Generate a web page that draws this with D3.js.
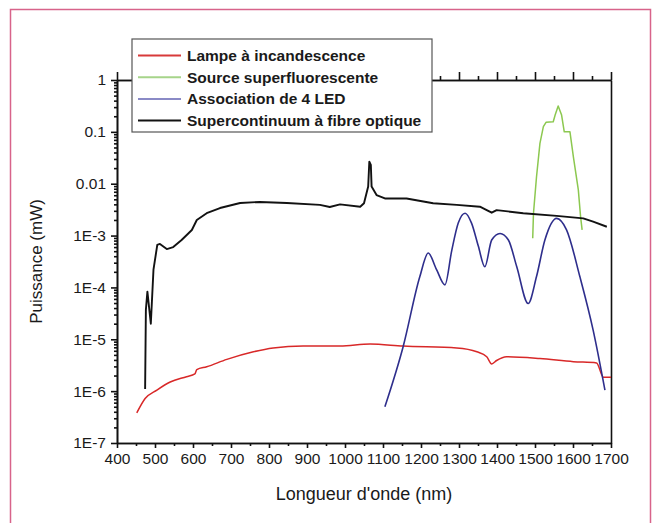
<!DOCTYPE html>
<html><head><meta charset="utf-8">
<script src="https://cdn.jsdelivr.net/npm/d3@7/dist/d3.min.js"></script>
<style>
body{margin:0;background:#fff;}
svg{display:block;font-family:"Liberation Sans",Arial,sans-serif;}
</style></head>
<body><svg id="c" width="657" height="523"></svg>
<script>
// ---- data ----
const xTicks = [400,500,600,700,800,900,1000,1100,1200,1300,1400,1500,1600,1700];
const yTicks = [1e-7,1e-6,1e-5,1e-4,1e-3,1e-2,1e-1,1];
const yTickLabels = ["1E-7","1E-6","1E-5","1E-4","1E-3","0.01","0.1","1"];
const seriesNames = ["Lampe à incandescence","Source superfluorescente","Association de 4 LED","Supercontinuum à fibre optique"];

const redNm  = [452,474,505,540,583,605,610,636,689,759,811,890,987,1066,1153,1294,1347,1373,1386,1399,1425,1513,1601,1662,1680,1700];
const redVal = [3.8e-7,7.2e-7,1.05e-6,1.5e-6,1.9e-6,2.15e-6,2.6e-6,2.95e-6,4.1e-6,5.75e-6,6.8e-6,7.4e-6,7.4e-6,8.1e-6,7.4e-6,6.8e-6,5.75e-6,4.6e-6,3.35e-6,3.9e-6,4.6e-6,4.25e-6,3.7e-6,3.5e-6,1.85e-6,1.85e-6];

const greenNm  = [1494,1496,1504,1513,1522,1529,1548,1553,1561,1570,1577,1592,1601,1614,1620,1624];
const greenVal = [8.9e-4,2.7e-3,1.36e-2,6.0e-2,0.126,0.153,0.157,0.211,0.316,0.211,0.10,0.10,3.3e-2,7.6e-3,2.3e-3,1.29e-3];

const blueNm  = [1105,1153,1197,1219,1241,1263,1281,1298,1316,1333,1351,1368,1386,1408,1430,1452,1482,1504,1526,1557,1583,1618,1653,1684];
const blueVal = [5.0e-7,7.2e-6,1.62e-4,4.6e-4,2.2e-4,1.12e-4,5.2e-4,1.74e-3,2.7e-3,1.74e-3,6.2e-4,2.5e-4,8.2e-4,1.1e-3,8.2e-4,2.5e-4,4.9e-5,1.62e-4,8.2e-4,2.15e-3,1.29e-3,1.62e-4,1.5e-5,1.05e-6];

const blackNm  = [474,476,480,489,496,506,513,531,548,570,597,610,636,671,724,776,847,934,960,987,1040,1050,1061,1064,1068,1070,1083,1105,1162,1232,1294,1355,1373,1386,1399,1469,1557,1627,1653,1689];
const blackVal = [1.1e-6,3.7e-5,8.3e-5,2.0e-5,2.2e-4,6.6e-4,6.9e-4,5.5e-4,6.0e-4,8.2e-4,1.28e-3,2.0e-3,2.7e-3,3.4e-3,4.25e-3,4.45e-3,4.25e-3,3.9e-3,3.55e-3,4.0e-3,3.6e-3,4.2e-3,8.8e-3,2.66e-2,2.3e-2,8.8e-3,6.05e-3,5.2e-3,5.2e-3,4.2e-3,3.9e-3,3.6e-3,3.1e-3,2.76e-3,3.1e-3,2.7e-3,2.4e-3,2.15e-3,1.85e-3,1.48e-3];

const colors = ["#d82828","#8cc850","#2e2e8c","#121212"];
const legendColors = ["#d83a3a","#a6d48a","#8a8ac6","#121212"];

// ---- chart ----
const svg = d3.select("#c");
const L=117,R=611,T=80,B=443;
const x = d3.scaleLinear().domain([400,1700]).range([L,R]);
const y = d3.scaleLog().domain([1e-7,1]).range([B,T]);

// pink border
svg.append("rect").attr("x",10.5).attr("y",9.5).attr("width",640).attr("height",530)
  .attr("fill","none").attr("stroke","#d8638a").attr("stroke-width",1.5);

const minorX = d3.range(450,1700,100);
const minorY = [];
for(let e=-7;e<0;e++) for(let k=2;k<=9;k++) minorY.push(k*Math.pow(10,e));

function styleAxis(g){
  g.selectAll("path,line").attr("stroke","#111").attr("stroke-width",1.6);
  g.selectAll("text").attr("fill","#1a1a1a").style("font-size","15.5px").style("font-family","'Liberation Sans',Arial,sans-serif");
}

// bottom
svg.append("g").attr("transform",`translate(0,${B})`)
  .call(d3.axisBottom(x).tickValues(minorX).tickFormat("").tickSize(3).tickSizeOuter(0)).call(styleAxis);
svg.append("g").attr("transform",`translate(0,${B})`)
  .call(d3.axisBottom(x).tickValues(xTicks).tickFormat(d3.format("d")).tickSize(5).tickSizeOuter(0).tickPadding(5)).call(styleAxis);
// top
svg.append("g").attr("transform",`translate(0,${T})`)
  .call(d3.axisTop(x).tickValues(minorX).tickFormat("").tickSize(4).tickSizeOuter(0)).call(styleAxis);
svg.append("g").attr("transform",`translate(0,${T})`)
  .call(d3.axisTop(x).tickValues(xTicks).tickFormat("").tickSize(8).tickSizeOuter(0)).call(styleAxis);
// left
svg.append("g").attr("transform",`translate(${L},0)`)
  .call(d3.axisLeft(y).tickValues(minorY).tickFormat("").tickSize(3).tickSizeOuter(0)).call(styleAxis);
svg.append("g").attr("transform",`translate(${L},0)`)
  .call(d3.axisLeft(y).tickValues(yTicks).tickFormat((d,i)=>yTickLabels[i]).tickSize(6).tickSizeOuter(0).tickPadding(5)).call(styleAxis);
// right
svg.append("g").attr("transform",`translate(${R},0)`)
  .call(d3.axisRight(y).tickValues([]).tickSizeOuter(0)).call(styleAxis);

// series
const series = [
  {nm:redNm,val:redVal,curve:d3.curveMonotoneX,w:1.5},
  {nm:greenNm,val:greenVal,curve:d3.curveLinear,w:1.5},
  {nm:blueNm,val:blueVal,curve:d3.curveMonotoneX,w:1.6},
  {nm:blackNm,val:blackVal,curve:d3.curveLinear,w:1.9}
];
const plot = svg.append("g");
series.forEach((s,i)=>{
  const pts = s.nm.map((n,j)=>[n,s.val[j]]);
  plot.append("path").datum(pts)
    .attr("fill","none").attr("stroke",colors[i]).attr("stroke-width",s.w)
    .attr("stroke-linejoin","round")
    .attr("d",d3.line().x(d=>x(d[0])).y(d=>y(d[1])).curve(s.curve));
});

// legend
const lg = svg.append("g");
lg.append("rect").attr("x",132).attr("y",39).attr("width",300).attr("height",93)
  .attr("fill","#fff").attr("stroke","#555").attr("stroke-width",1.2);
seriesNames.forEach((n,i)=>{
  const yy = 55.5 + i*21.7;
  lg.append("line").attr("x1",138).attr("x2",181).attr("y1",yy).attr("y2",yy)
    .attr("stroke",legendColors[i]).attr("stroke-width",2);
  lg.append("text").attr("x",187).attr("y",yy).attr("dy","0.35em")
    .attr("fill","#1a1a1a").style("font-size","15.5px").style("font-weight","bold").text(n);
});

// axis titles
svg.append("text").attr("x",(L+R)/2).attr("y",500).attr("text-anchor","middle")
  .attr("fill","#1a1a1a").style("font-size","18px").text("Longueur d'onde (nm)");
svg.append("text").attr("transform",`translate(42,${(T+B)/2}) rotate(-90)`).attr("text-anchor","middle")
  .attr("fill","#1a1a1a").style("font-size","17px").text("Puissance (mW)");
</script>
</body></html>
